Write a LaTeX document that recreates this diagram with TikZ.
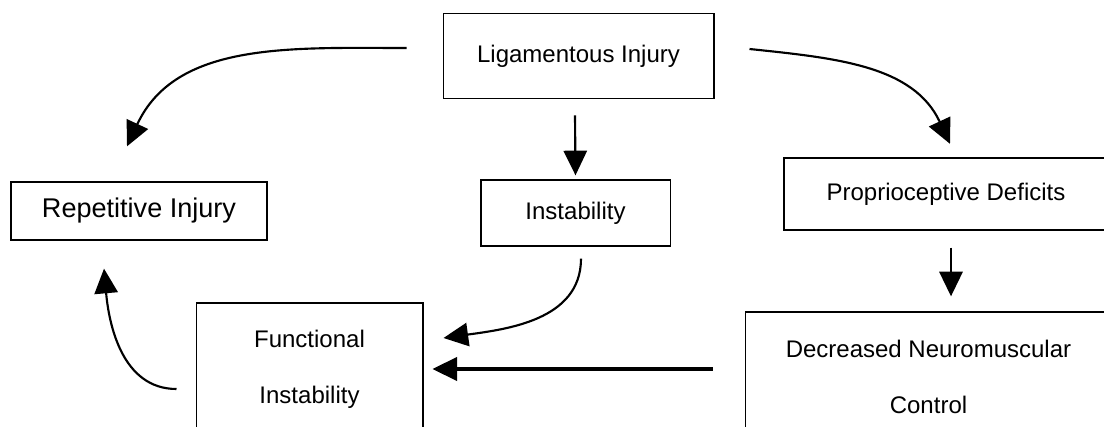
\documentclass[tikz,border=0pt]{standalone}
\usepackage{fontspec}
\setmainfont{Liberation Sans}
\usetikzlibrary{arrows.meta,calc}
\tikzset{
  factor/.style={rectangle, draw=black, line width=1pt, inner sep=0pt,
                 align=center, font=\fontsize{18}{42}\selectfont},
  bigfactor/.style={factor, font=\fontsize{20.3}{24}\selectfont},
  link/.style={-{Triangle[length=18.5pt,width=17.5pt]}, line width=1.6pt},
  thicklink/.style={link, line width=2.7pt}
}
\begin{document}
\begin{tikzpicture}[x=0.75pt,y=0.75pt]
\clip (0,0) rectangle (1104,-427);
% boxes
\node[factor, minimum width=203pt, minimum height=64pt] (lig) at (578.5,-56) {Ligamentous Injury};
\node[bigfactor, minimum width=192pt, minimum height=43.5pt] (rep) at (139,-211) {Repetitive Injury};
\node[factor, minimum width=142pt, minimum height=49.5pt] (inst) at (575.5,-213) {Instability};
\node[factor, minimum width=243pt, minimum height=54pt] (prop) at (946,-194) {Proprioceptive Deficits};
\node[factor, minimum width=275pt, minimum height=97.5pt] (dec) at (928.5,-377) {Decreased Neuromuscular\\Control};
\node[factor, minimum width=170pt, minimum height=99pt] (func) at (309.5,-369) {Functional\\Instability};
% arrows
\draw[link] ($(lig.west)+(-36,8)$) to[out=180,in=65] ($(rep.north)+(-12,35)$);
\draw[link] ($(lig.south)+(-3.5,-16)$) -- ($(inst.north)+(0,4)$);
\draw[link] ($(lig.east)+(35,7)$) to[out=-6,in=115] ($(prop.north)+(4,13.5)$);
\draw[link] ($(prop.south)+(5,-17)$) -- ($(prop.south |- dec.north)+(5,15)$);
\draw[thicklink] ($(dec.west)+(-32,8)$) -- ($(func.east)+(9,0)$);
\draw[link] ($(inst.south)+(5.5,-12)$) to[out=-90,in=8] ($(func.east)+(20,31)$);
\draw[link] ($(func.west)+(-19,-20)$) to[out=180,in=-85] ($(rep.south)+(-35,-28)$);
\end{tikzpicture}
\end{document}
